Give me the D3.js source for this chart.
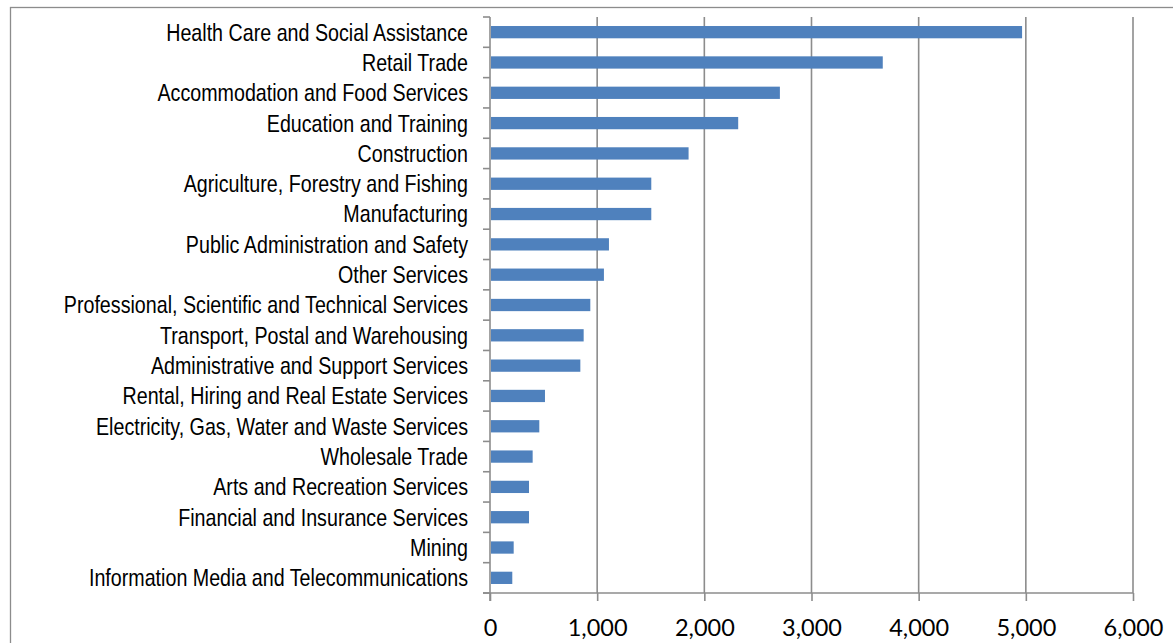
<!DOCTYPE html>
<html>
<head>
<meta charset="utf-8">
<script src="https://cdn.jsdelivr.net/npm/d3@7"></script>
<style>
  html, body { margin: 0; padding: 0; background: #ffffff; }
  svg { display: block; }
</style>
</head>
<body>
<svg id="chart" width="1173" height="643"></svg>
<script>
// Employment by industry
const industries = [
  "Health Care and Social Assistance",
  "Retail Trade",
  "Accommodation and Food Services",
  "Education and Training",
  "Construction",
  "Agriculture, Forestry and Fishing",
  "Manufacturing",
  "Public Administration and Safety",
  "Other Services",
  "Professional, Scientific and Technical Services",
  "Transport, Postal and Warehousing",
  "Administrative and Support Services",
  "Rental, Hiring and Real Estate Services",
  "Electricity, Gas, Water and Waste Services",
  "Wholesale Trade",
  "Arts and Recreation Services",
  "Financial and Insurance Services",
  "Mining",
  "Information Media and Telecommunications"
];
const persons = [
  4965, 3665, 2705, 2316, 1853, 1505, 1505, 1110, 1063, 936,
  874, 843, 513, 460, 398, 364, 364, 221, 208
];
const xTicks = [0, 1000, 2000, 3000, 4000, 5000, 6000];

const svg = d3.select("#chart");
const frameColor = "#8c8c8c";
const gridColor = "#8c8c8c";
const barColor = "#4f81bd";

// Outer chart frame (runs off the right and bottom edges)
svg.append("rect")
  .attr("x", 10.5).attr("y", 7.5)
  .attr("width", 1200).attr("height", 700)
  .attr("fill", "none")
  .attr("stroke", frameColor)
  .attr("stroke-width", 1.3);

const plot = { left: 490, right: 1133, top: 17, bottom: 593 };

const x = d3.scaleLinear().domain([0, 6000]).range([plot.left, plot.right]);
const y = d3.scaleBand()
  .domain(industries)
  .range([plot.top, plot.bottom])
  .paddingInner(0.595)
  .paddingOuter(0.2975);

// Vertical gridlines
svg.append("g")
  .selectAll("line")
  .data(xTicks.slice(1))
  .join("line")
  .attr("x1", d => x(d)).attr("x2", d => x(d))
  .attr("y1", plot.top).attr("y2", plot.bottom)
  .attr("stroke", gridColor)
  .attr("stroke-width", 1.6);

// Bars
svg.append("g")
  .selectAll("rect")
  .data(industries.map((name, i) => ({ name, value: persons[i] })))
  .join("rect")
  .attr("x", x(0) + 1)
  .attr("y", d => y(d.name))
  .attr("width", d => x(d.value) - x(0) - 1)
  .attr("height", y.bandwidth())
  .attr("fill", barColor);

// Bottom value axis
const xAxis = d3.axisBottom(x)
  .tickValues(xTicks)
  .tickSize(8)
  .tickPadding(18)
  .tickFormat(d3.format(","));

const gx = svg.append("g")
  .attr("transform", `translate(0,${plot.bottom})`)
  .call(xAxis);
gx.select(".domain").remove();
gx.selectAll(".tick line").attr("stroke", gridColor).attr("stroke-width", 1.6);
gx.selectAll(".tick text")
  .attr("fill", "#000")
  .style("font-family", "Lato, 'Open Sans', sans-serif")
  .style("font-size", "23.5px");
gx.append("line")
  .attr("x1", plot.left - 7).attr("x2", plot.right)
  .attr("y1", 0).attr("y2", 0)
  .attr("stroke", gridColor).attr("stroke-width", 1.6);

// Left category axis
const gy = svg.append("g").attr("transform", `translate(${plot.left},0)`);
gy.append("line")
  .attr("x1", 0).attr("x2", 0)
  .attr("y1", plot.top).attr("y2", plot.bottom + 8)
  .attr("stroke", gridColor).attr("stroke-width", 1.6);
const step = y.step();
gy.selectAll("line.cat-tick")
  .data(d3.range(industries.length + 1))
  .join("line")
  .attr("class", "cat-tick")
  .attr("x1", -7).attr("x2", 0)
  .attr("y1", i => plot.top + i * step).attr("y2", i => plot.top + i * step)
  .attr("stroke", gridColor).attr("stroke-width", 1.6);

// Category labels, set in a condensed face
gy.selectAll("text")
  .data(industries)
  .join("text")
  .attr("transform", d => `translate(-22,${y(d) + y.bandwidth() / 2}) scale(0.82,1)`)
  .attr("dy", "0.35em")
  .attr("text-anchor", "end")
  .attr("fill", "#000")
  .style("font-family", "'Liberation Sans', Arial, sans-serif")
  .style("font-size", "24px")
  .text(d => d);
</script>
</body>
</html>
